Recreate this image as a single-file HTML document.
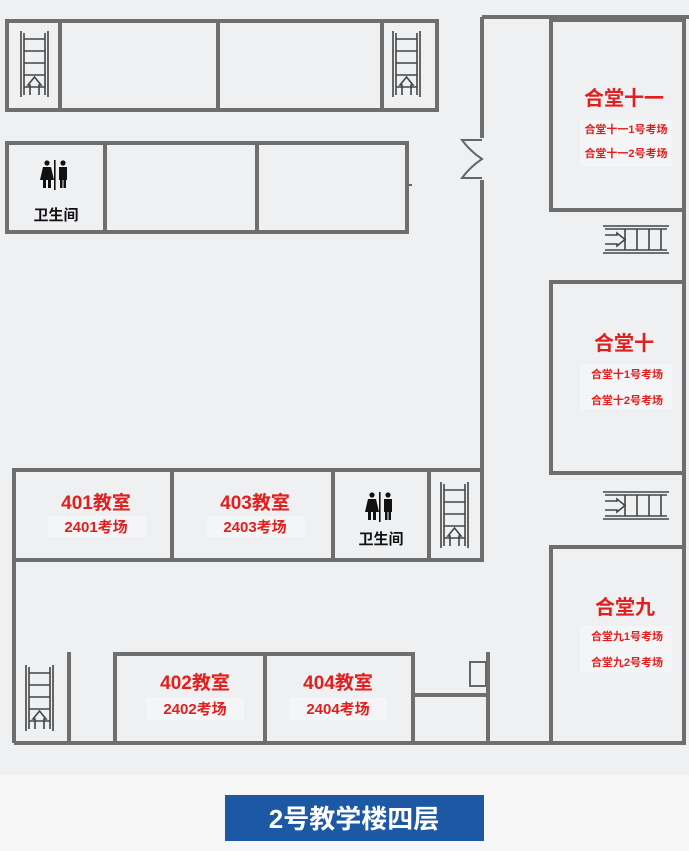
<!DOCTYPE html>
<html><head><meta charset="utf-8"><style>
html,body{margin:0;padding:0;background:#fff}
svg{display:block}
text{font-family:"Liberation Sans","Noto Sans CJK SC",sans-serif;font-weight:bold}
</style></head><body>
<svg width="689" height="851" viewBox="0 0 689 851" xmlns="http://www.w3.org/2000/svg">
<defs>
<g id="stv" stroke="#444" stroke-width="1.6" fill="none">
  <line x1="0" y1="0" x2="0" y2="66"/><line x1="3" y1="2" x2="3" y2="64"/>
  <line x1="24" y1="2" x2="24" y2="64"/><line x1="27" y1="0" x2="27" y2="66"/>
  <line x1="3" y1="8" x2="24" y2="8"/><line x1="3" y1="20" x2="24" y2="20"/>
  <line x1="3" y1="32" x2="24" y2="32"/><line x1="3" y1="44" x2="24" y2="44"/>
  <line x1="3" y1="56" x2="24" y2="56"/>
  <path d="M9 64 V54 H7 L13.5 46 L20 54 H18 V64"/>
</g>
<g id="sth" stroke="#444" stroke-width="1.6" fill="none">
  <line x1="0" y1="0" x2="66" y2="0"/><line x1="2" y1="3" x2="64" y2="3"/>
  <line x1="2" y1="24" x2="64" y2="24"/><line x1="0" y1="27" x2="66" y2="27"/>
  <line x1="22" y1="3" x2="22" y2="24"/><line x1="34" y1="3" x2="34" y2="24"/>
  <line x1="46" y1="3" x2="46" y2="24"/><line x1="58" y1="3" x2="58" y2="24"/>
  <path d="M2 9 H14 V7 L22 13.5 L14 20 V18 H2"/>
</g>
<g id="wc" fill="#111">
  <circle cx="-8" cy="-13" r="2.6"/><path d="M-12 -9 H-4 L-1 4 H-4 V12 H-7 V4 H-9 V12 H-12 V4 H-15 Z"/>
  <rect x="-1" y="-16" width="1.6" height="30"/>
  <circle cx="8" cy="-13" r="2.6"/><path d="M4 -9 H12 V4 H11 V12 H8.5 V4 H7.5 V12 H5 V4 H4 Z"/>
</g>
</defs>
<rect x="0" y="0" width="689" height="775" fill="#eef0f2"/>
<rect x="0" y="775" width="689" height="76" fill="#f6f6f6"/>
<g fill="#f4f5f6">
  <rect x="580" y="120" width="92" height="46"/>
  <rect x="580" y="364" width="92" height="46"/>
  <rect x="580" y="626" width="92" height="46"/>
  <rect x="48" y="516" width="98" height="22"/>
  <rect x="207" y="516" width="98" height="22"/>
  <rect x="146" y="698" width="98" height="22"/>
  <rect x="289" y="698" width="98" height="22"/>
</g>
<g stroke="#6e6e6e" stroke-width="4" fill="none">
  <rect x="7" y="21" width="430" height="89"/>
  <line x1="60" y1="21" x2="60" y2="110"/>
  <line x1="218" y1="21" x2="218" y2="110"/>
  <line x1="382" y1="21" x2="382" y2="110"/>
  <rect x="7" y="143" width="400" height="89"/>
  <line x1="105" y1="143" x2="105" y2="232"/>
  <line x1="257" y1="143" x2="257" y2="232"/>
  <line x1="482" y1="17" x2="689" y2="17"/>
  <line x1="482" y1="17" x2="482" y2="138"/>
  <line x1="482" y1="180" x2="482" y2="560"/>
  <line x1="684" y1="17" x2="684" y2="743"/>
  <path d="M684 20 H551 V210 H684"/>
  <path d="M684 282 H551 V473 H684"/>
  <path d="M684 547 H551 V743"/>
  <rect x="14" y="470" width="468" height="90"/>
  <line x1="172" y1="470" x2="172" y2="560"/>
  <line x1="333" y1="470" x2="333" y2="560"/>
  <line x1="429" y1="470" x2="429" y2="560"/>
  <line x1="14" y1="560" x2="14" y2="743"/>
  <line x1="14" y1="743" x2="686" y2="743"/>
  <line x1="69" y1="652" x2="69" y2="743"/>
  <rect x="115" y="654" width="298" height="89"/>
  <line x1="265" y1="654" x2="265" y2="743"/>
  <line x1="413" y1="695" x2="488" y2="695"/>
  <line x1="488" y1="652" x2="488" y2="743"/>
</g>
<g stroke="#666" stroke-width="2" fill="none">
  <path d="M482 140 H462 Q470 151 482 159 Q470 167 462 178 H482"/>
  <rect x="470" y="662" width="16" height="24"/>
  <line x1="408" y1="185" x2="412" y2="185"/>
</g>
<use href="#stv" x="21" y="31"/>
<use href="#stv" x="393" y="31"/>
<use href="#stv" x="441" y="482"/>
<use href="#stv" x="26" y="665"/>
<use href="#sth" x="603" y="226"/>
<use href="#sth" x="603" y="492"/>
<use href="#wc" x="55" y="176"/>
<use href="#wc" x="380" y="508"/>
<text x="56" y="220" font-size="15" fill="#111" text-anchor="middle">卫生间</text>
<text x="381" y="544" font-size="15" fill="#111" text-anchor="middle">卫生间</text>
<g fill="#e0201e" text-anchor="middle">
  <text x="624" y="105" font-size="20">合堂十一</text>
  <text x="626" y="133" font-size="11">合堂十一1号考场</text>
  <text x="626" y="157" font-size="11">合堂十一2号考场</text>
  <text x="624" y="350" font-size="20">合堂十</text>
  <text x="627" y="378" font-size="11">合堂十1号考场</text>
  <text x="627" y="404" font-size="11">合堂十2号考场</text>
  <text x="625" y="614" font-size="20">合堂九</text>
  <text x="627" y="640" font-size="11">合堂九1号考场</text>
  <text x="627" y="666" font-size="11">合堂九2号考场</text>
  <text x="96" y="509" font-size="19">401教室</text>
  <text x="96" y="532" font-size="15">2401考场</text>
  <text x="255" y="509" font-size="19">403教室</text>
  <text x="255" y="532" font-size="15">2403考场</text>
  <text x="195" y="689" font-size="19">402教室</text>
  <text x="195" y="714" font-size="15">2402考场</text>
  <text x="338" y="689" font-size="19">404教室</text>
  <text x="338" y="714" font-size="15">2404考场</text>
</g>
<rect x="225" y="795" width="259" height="46" fill="#1c58a4"/>
<text x="354" y="828" font-size="26" fill="#fff" text-anchor="middle">2号教学楼四层</text>
</svg>
</body></html>
